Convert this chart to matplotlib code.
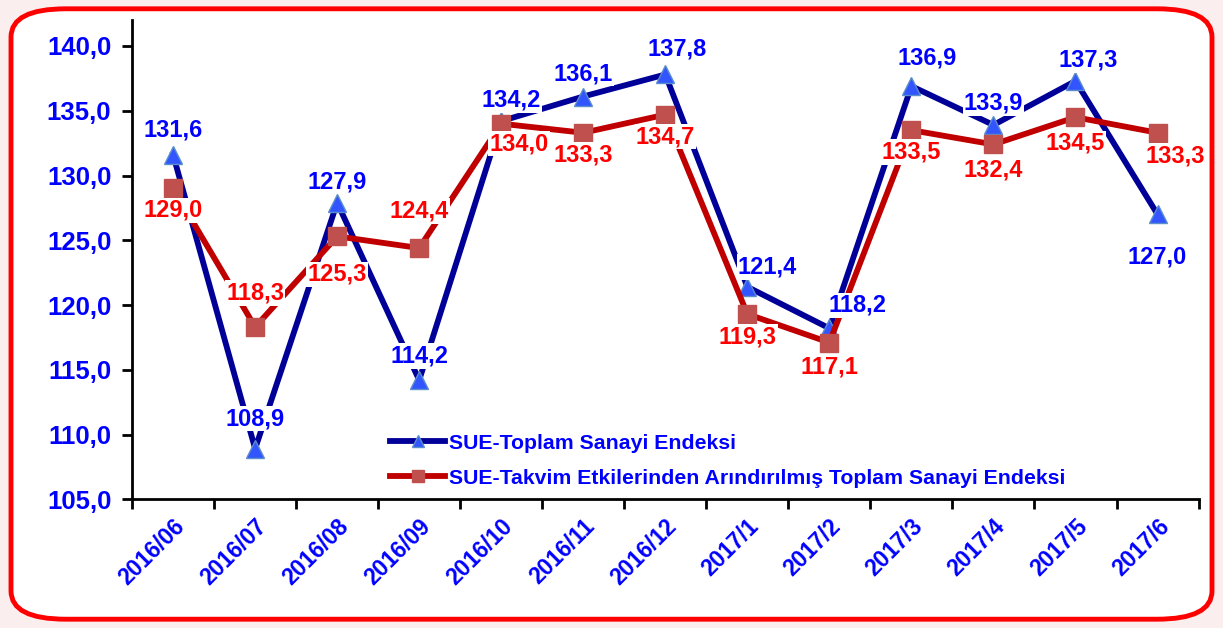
import matplotlib.pyplot as plt
from matplotlib.patches import FancyBboxPatch
import numpy as np

# data
months = ['2016/06', '2016/07', '2016/08', '2016/09', '2016/10', '2016/11', '2016/12',
          '2017/1', '2017/2', '2017/3', '2017/4', '2017/5', '2017/6']
toplam = [131.6, 108.9, 127.9, 114.2, 134.2, 136.1, 137.8, 121.4, 118.2, 136.9, 133.9, 137.3, 127.0]
takvim = [129.0, 118.3, 125.3, 124.4, 134.0, 133.3, 134.7, 119.3, 117.1, 133.5, 132.4, 134.5, 133.3]

# label offsets in pixels (dx, dy) relative to each point
off_toplam = [(0, 25), (0, 30), (0, 21), (0, 24), (10, 21), (0, 23), (12, 25),
              (20, 20), (28, 23), (16, 28), (0, 22), (13, 21), (0, -43)]
off_takvim = [(0, -22), (0, 34), (0, -38), (0, 37), (18, -20), (0, -22), (0, -22),
              (0, -23), (0, -24), (0, -22), (0, -26), (0, -26), (18, -23)]

plt.rcParams['font.family'] = ['Liberation Sans', 'DejaVu Sans']
plt.rcParams['font.weight'] = 'bold'

fig = plt.figure(figsize=(12.23, 6.28), dpi=100)
fig.patch.set_facecolor('#fbeeee')

# rounded red frame around the whole chart
frame = FancyBboxPatch((0.009, 0.014), 0.982, 0.972,
                       boxstyle='round,pad=0,rounding_size=0.045',
                       transform=fig.transFigure, facecolor='white',
                       edgecolor='#ff0000', linewidth=3.5, zorder=-5)
fig.patches.append(frame)

ax = fig.add_axes([0.108, 0.205, 0.872, 0.763])
ax.set_facecolor('none')

x = np.arange(len(months))

ax.plot(x, toplam, color='#000099', linewidth=4.2, marker='^', markersize=13,
        markerfacecolor='#3355ff', markeredgecolor='#5b8fc9', markeredgewidth=1,
        label='SUE-Toplam Sanayi Endeksi', zorder=3)
ax.plot(x, takvim, color='#c00000', linewidth=4.2, marker='s', markersize=13,
        markerfacecolor='#c0504d', markeredgecolor='#c0504d',
        label='SUE-Takvim Etkilerinden Arındırılmış Toplam Sanayi Endeksi', zorder=4)


def fmt(v):
    return f'{v:.1f}'.replace('.', ',')


for i in range(len(x)):
    ax.annotate(fmt(toplam[i]), (x[i], toplam[i]), xytext=off_toplam[i],
                textcoords='offset pixels', ha='center', va='center',
                color='#0000ff', fontsize=17, fontweight='bold', zorder=6,
                bbox=dict(boxstyle='square,pad=0.05', facecolor='white', edgecolor='none'))
    ax.annotate(fmt(takvim[i]), (x[i], takvim[i]), xytext=off_takvim[i],
                textcoords='offset pixels', ha='center', va='center',
                color='#ff0000', fontsize=17, fontweight='bold', zorder=5,
                bbox=dict(boxstyle='square,pad=0.05', facecolor='white', edgecolor='none'))

ax.set_xlim(-0.5, len(months) - 0.5)
ax.set_ylim(105, 142)
ax.set_yticks(np.arange(105, 141, 5))
ax.set_yticklabels([fmt(v) for v in np.arange(105, 141, 5)])

ax.set_xticks(x)
ax.set_xticklabels(months, rotation=45, ha='right', rotation_mode='anchor')
ax.set_xticks(np.arange(-0.5, len(months), 1), minor=True)
ax.tick_params(axis='x', which='major', length=0, pad=11, labelsize=16.5, labelcolor='#0000ff')
ax.tick_params(axis='x', which='minor', length=7, width=2, direction='out')
ax.tick_params(axis='y', length=7, width=2, labelsize=18.5, labelcolor='#0000ff', pad=8)
for lbl in ax.get_xticklabels() + ax.get_yticklabels():
    lbl.set_fontweight('bold')

for side in ['top', 'right']:
    ax.spines[side].set_visible(False)
for side in ['left', 'bottom']:
    ax.spines[side].set_linewidth(2)

leg = ax.legend(loc='lower left', bbox_to_anchor=(0.232, 0.002), frameon=False,
                borderpad=0, handlelength=2.6, handletextpad=0.15, labelspacing=0.75,
                prop={'size': 15.3, 'weight': 'bold'}, markerscale=0.7)
for t in leg.get_texts():
    t.set_color('#0000ff')

fig.savefig('out.png', dpi=100, facecolor=fig.get_facecolor())
